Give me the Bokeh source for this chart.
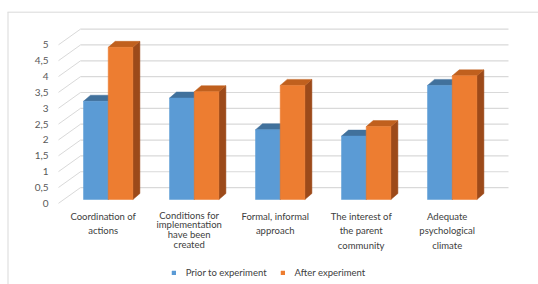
from bokeh.plotting import figure
from bokeh.models import Range1d, Legend, LegendItem
from bokeh.core.properties import value
from bokeh.embed import file_html
from bokeh.resources import INLINE

# ---------------- data ----------------
categories = [
    "Coordination of\nactions",
    "Conditions for\nimplementation\nhave been\ncreated",
    "Formal, informal\napproach",
    "The interest of\nthe parent\ncommunity",
    "Adequate\npsychological\nclimate",
]
prior = [3.1, 3.2, 2.2, 2.0, 3.6]
after = [4.8, 3.4, 3.6, 2.3, 3.9]
series_names = ["Prior to experiment", "After experiment"]
y_ticks = [0, 0.5, 1, 1.5, 2, 2.5, 3, 3.5, 4, 4.5, 5]
y_tick_labels = ["0", "0,5", "1", "1,5", "2", "2,5", "3", "3,5", "4", "4,5", "5"]

# ---------------- geometry / style ----------------
W, H = 538, 284
PXC = 86.0      # px per category
PXV = 31.7      # px per value unit
X0 = 107.7      # px (from left) of category 0 centre
Y0 = 199.0      # px (from top) of value 0 (bar floor)

def fx(px):     # px -> x data
    return (px - X0) / PXC

def fy(py):     # px (from top) -> y data
    return (Y0 - py) / PXV

FONT = "Lato"
BAR_W = 24.7 / PXC
DX = 7.0 / PXC
DY = 6.0 / PXV
BACK = 0.375          # back wall offset (value units)
LAB = -0.12           # tick label offset (value units)
GRID = "#d9d9d9"

p = figure(width=W, height=H,
           x_range=Range1d(fx(0), fx(W)), y_range=Range1d(fy(H), fy(0)),
           output_backend="svg", toolbar_location=None,
           x_axis_location=None, y_axis_location=None,
           min_border=0, outline_line_color=None,
           background_fill_color="white", border_fill_color="white")
p.grid.visible = False

# chart border (top / left)
top_y = fy(11.7)
p.segment(x0=[fx(7)], y0=[top_y], x1=[fx(W)], y1=[top_y], line_color=GRID, line_width=1)
p.segment(x0=[fx(7.5)], y0=[top_y], x1=[fx(7.5)], y1=[fy(H)], line_color=GRID, line_width=1)

# 3D gridlines: diagonal from label to back wall, then along back wall
xa, xb, xc = fx(58), fx(80), fx(508)
p.segment(x0=[xa] * len(y_ticks), y0=[t + LAB for t in y_ticks],
          x1=[xb] * len(y_ticks), y1=[t + BACK for t in y_ticks],
          line_color=GRID, line_width=1)
p.segment(x0=[xb] * len(y_ticks), y0=[t + BACK for t in y_ticks],
          x1=[xc] * len(y_ticks), y1=[t + BACK for t in y_ticks],
          line_color=GRID, line_width=1.2)

# y tick labels
p.text(x=[fx(48)] * len(y_ticks), y=[t + LAB for t in y_ticks], text=y_tick_labels,
       text_font=value(FONT), text_font_size="10px", text_color="#595959",
       text_align="right", text_baseline="middle")

# bars
series = [
    (prior, -1, "#5b9bd5", "#41719c", "#3a6590"),
    (after, 0, "#ed7d31", "#c0601e", "#9c4a1a"),
]
fronts = []
for vals, off, c_front, c_top, c_side in series:
    lefts = [i + off * BAR_W for i in range(len(vals))]
    rights = [l + BAR_W for l in lefts]
    side_xs = [[r, r + DX, r + DX, r] for r in rights]
    side_ys = [[v, v + DY, DY, 0] for v in vals]
    p.patches(side_xs, side_ys, fill_color=c_side, line_color=c_side, line_width=0.5)
    top_xs = [[l, r, r + DX, l + DX] for l, r in zip(lefts, rights)]
    top_ys = [[v, v, v + DY, v + DY] for v in vals]
    p.patches(top_xs, top_ys, fill_color=c_top, line_color=c_top, line_width=0.5)
    r = p.vbar(x=[(l + rr) / 2 for l, rr in zip(lefts, rights)], width=BAR_W,
               top=vals, bottom=0, fill_color=c_front, line_color=c_front, line_width=0.5)
    fronts.append(r)

# category labels
lab_x = [i - 5.0 / PXC for i in range(len(categories))]
normal = [i for i, c in enumerate(categories) if c.count("\n") < 3]
tight = [i for i, c in enumerate(categories) if c.count("\n") >= 3]
p.text(x=[lab_x[i] for i in normal], y=[fy(210.7)] * len(normal),
       text=[categories[i] for i in normal],
       text_font=value(FONT), text_font_size="9.5px", text_color="#404040",
       text_align="center", text_baseline="top", text_line_height=1.3)
p.text(x=[lab_x[i] for i in tight], y=[fy(209.3)] * len(tight),
       text=[categories[i] for i in tight],
       text_font=value(FONT), text_font_size="9.5px", text_color="#404040",
       text_align="center", text_baseline="top", text_line_height=0.88)

legend = Legend(items=[LegendItem(label=series_names[0], renderers=[fronts[0]]),
                       LegendItem(label=series_names[1], renderers=[fronts[1]])],
                orientation="horizontal", location=(170.7, 6),
                glyph_width=5, glyph_height=5, label_standoff=10, spacing=13,
                padding=0, margin=0, border_line_color=None, background_fill_alpha=0,
                label_text_font=FONT, label_text_font_size="9.5px",
                label_text_color="#404040", label_height=10)
p.add_layout(legend)

open("out.html", "w").write(file_html(p, INLINE))
